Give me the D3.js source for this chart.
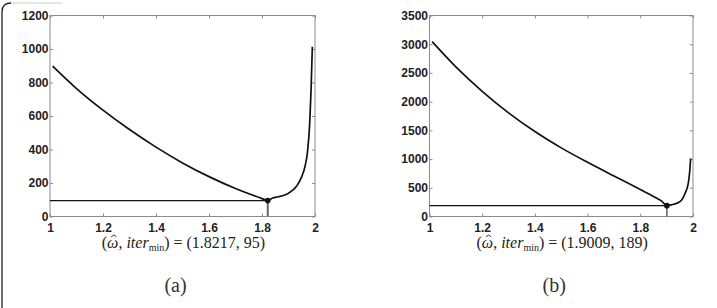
<!DOCTYPE html>
<html>
<head>
	<title>SOR omega</title>
	<style type="text/css">
		body { margin: 0; background: #fff; }
		.axis line { stroke: #8c8c8c; }
		.xlab { font-family: "Liberation Serif", "DejaVu Serif", serif; font-size: 16px; fill: #222; }
		.panel { font-family: "Liberation Serif", "DejaVu Serif", serif; font-size: 20px; fill: #333; }
	</style>
</head>
<body>
	<div id="fig"></div>
	<script src="https://d3js.org/d3.v7.min.js"></script>
	<script type="text/javascript">
		// panel (a)
		var omegaA = [1.01, 1.1, 1.2, 1.3, 1.4, 1.5, 1.6, 1.7, 1.8, 1.8217, 1.84, 1.862, 1.88, 1.899, 1.931, 1.95, 1.962, 1.971, 1.98, 1.985, 1.99];
		var iterA = [898, 764, 635, 519, 414, 320, 238, 167, 107, 95, 110, 118, 125, 138, 182, 238, 297, 377, 556, 750, 1014];
		var optA = [1.8217, 95];
		var yTicksA = [0, 200, 400, 600, 800, 1000, 1200];

		// panel (b)
		var omegaB = [1.01, 1.1, 1.2, 1.3, 1.4, 1.5, 1.6, 1.7, 1.8, 1.85, 1.88, 1.9009, 1.92, 1.938, 1.957, 1.97, 1.982, 1.987, 1.991];
		var iterB = [3044, 2605, 2179, 1805, 1479, 1195, 943, 705, 470, 350, 272, 189, 205, 230, 287, 404, 578, 760, 1013];
		var optB = [1.9009, 189];
		var yTicksB = [0, 500, 1000, 1500, 2000, 2500, 3000, 3500];

		var xTicks = [1, 1.2, 1.4, 1.6, 1.8, 2];
		var labelsA = ["1.8217", "95"], labelsB = ["1.9009", "189"];

		var width = 717, height = 308;
		var svg = d3.select('#fig').append('svg')
			.attr('width', width).attr('height', height);

		// outer frame (only the left edge shows)
		svg.append('path')
			.attr('d', 'M2,308 L2,12 Q2,3 11,3')
			.attr('fill', 'none').attr('stroke', '#222').attr('stroke-width', 1.3);
		svg.append('line').attr('x1', 11).attr('x2', 62).attr('y1', 3).attr('y2', 3)
			.attr('stroke', '#ccc').attr('stroke-width', 1);

		function styleTicks(sel) {
			sel.selectAll('text')
				.attr('font-family', '"Liberation Sans", Arial, sans-serif')
				.attr('font-size', 12)
				.attr('font-weight', 'bold')
				.attr('fill', '#222');
		}

		function panel(left, right, ymax, yTicks, omega, iter, opt, labels, tag, guideColor, guideWidth) {
			var top = 15.5, bottom = 216.5;
			var x = d3.scaleLinear().domain([1, 2]).range([left, right]),
				y = d3.scaleLinear().domain([0, ymax]).range([bottom, top]);
			var g = svg.append('g');

			// box
			g.append('rect').attr('x', left).attr('y', top)
				.attr('width', right - left).attr('height', bottom - top)
				.attr('fill', 'none').attr('stroke', '#8c8c8c');

			var ax = g.append('g').attr('class', 'axis').attr('transform', 'translate(0,' + bottom + ')')
				.call(d3.axisBottom(x).tickValues(xTicks).tickSizeInner(-3).tickSizeOuter(0)
					.tickFormat(d3.format('')));
			ax.select('.domain').remove();
			ax.selectAll('text').attr('y', 8).attr('dy', '0.62em');
			styleTicks(ax);

			var axTop = g.append('g').attr('class', 'axis').attr('transform', 'translate(0,' + top + ')')
				.call(d3.axisTop(x).tickValues(xTicks).tickSizeInner(-3).tickSizeOuter(0).tickFormat(''));
			axTop.select('.domain').remove();

			var ay = g.append('g').attr('class', 'axis').attr('transform', 'translate(' + left + ',0)')
				.call(d3.axisLeft(y).tickValues(yTicks).tickSizeInner(-3).tickSizeOuter(0).tickFormat(d3.format('d')));
			ay.select('.domain').remove();
			ay.selectAll('text').attr('x', -1.5);
			styleTicks(ay);

			var ayR = g.append('g').attr('class', 'axis').attr('transform', 'translate(' + right + ',0)')
				.call(d3.axisRight(y).tickValues(yTicks).tickSizeInner(-3).tickSizeOuter(0).tickFormat(''));
			ayR.select('.domain').remove();

			// optimum guide lines
			g.append('line').attr('x1', x(1)).attr('x2', x(opt[0]))
				.attr('y1', y(opt[1])).attr('y2', y(opt[1]))
				.attr('stroke', '#111').attr('stroke-width', 1.3);
			g.append('line').attr('x1', x(opt[0])).attr('x2', x(opt[0]))
				.attr('y1', y(0)).attr('y2', y(opt[1]))
				.attr('stroke', guideColor).attr('stroke-width', guideWidth);

			var line = d3.line()
				.x(function(d, i) { return x(omega[i]); })
				.y(function(d) { return y(d); })
				.curve(d3.curveMonotoneX);
			g.append('path').datum(iter).attr('d', line)
				.attr('fill', 'none').attr('stroke', '#111').attr('stroke-width', 1.7);

			g.append('circle').attr('cx', x(opt[0])).attr('cy', y(opt[1]))
				.attr('r', 2.8).attr('fill', '#111');

			// x label
			var cx = (left + right) / 2 + 1;
			var t = g.append('text').attr('class', 'xlab').attr('x', cx).attr('y', 248)
				.attr('text-anchor', 'middle');
			t.append('tspan').text('(');
			t.append('tspan').style('font-style', 'italic').text('\u03C9');
			t.append('tspan').text(', ');
			t.append('tspan').style('font-style', 'italic').text('iter');
			t.append('tspan').attr('dy', 3).style('font-size', '10px').text('min');
			t.append('tspan').attr('dy', -3).text(') = (' + labels[0] + ', ' + labels[1] + ')');
			// hat over omega, drawn as a small stroke
			var box = t.node().getExtentOfChar(1);
			var hx = box.x + box.width / 2 + 1, hy = box.y + 1;
			g.append('path')
				.attr('d', 'M' + (hx - 2.6) + ',' + (hy + 1.8) + 'L' + hx + ',' + hy + 'L' + (hx + 2.6) + ',' + (hy + 1.8))
				.attr('fill', 'none').attr('stroke', '#222').attr('stroke-width', 0.9);

			g.append('text').attr('class', 'panel').attr('x', cx - 8).attr('y', 292)
				.attr('text-anchor', 'middle').text(tag);
		}

		panel(50, 315, 1200, yTicksA, omegaA, iterA, optA, labelsA, '(a)', '#666', 2);
		panel(429.5, 693, 3500, yTicksB, omegaB, iterB, optB, labelsB, '(b)', '#333', 1.2);
	</script>
</body>
</html>
